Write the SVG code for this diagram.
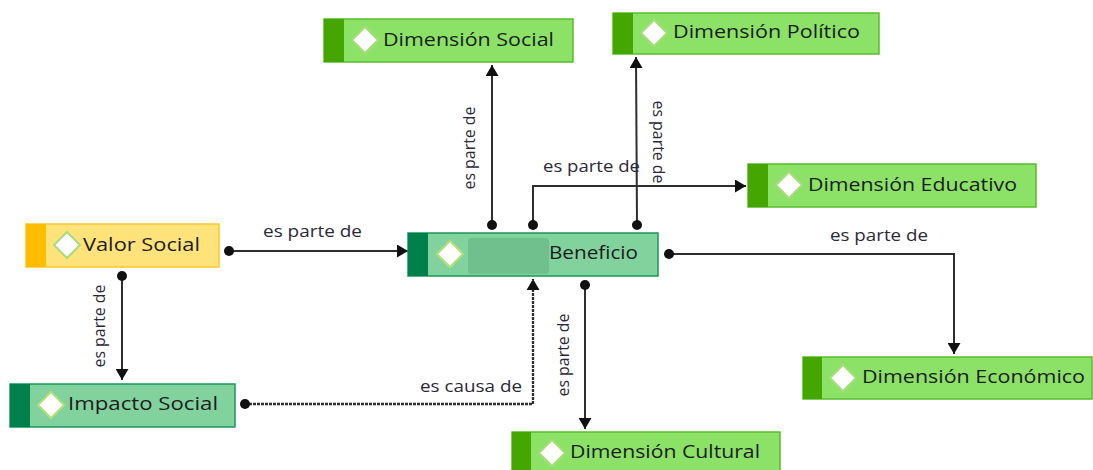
<svg xmlns="http://www.w3.org/2000/svg" width="1093" height="470" viewBox="0 0 1093 470">
<defs>
<style>
.bg{fill:#ffffff}
.g .box{fill:#8be266;stroke:#58bd2c;stroke-width:1.5}
.g .strip{fill:#46a600}
.y .box{fill:#ffe27a;stroke:#ffc72e;stroke-width:1.5}
.y .strip{fill:#ffbd00}
.t .box{fill:#82d29e;stroke:#18985a;stroke-width:1.5}
.t .strip{fill:#00804a}
.dia{fill:#ffffff;stroke:#a8dc7c;stroke-width:2}
.lbl{font-family:"Open Sans","Noto Sans","DejaVu Sans",sans-serif;font-size:18px;fill:#1c1c1c}
.el{font-family:"Open Sans","Noto Sans","DejaVu Sans",sans-serif;font-size:15.5px;fill:#2c2838}
.ln{fill:none;stroke:#2e2e2e;stroke-width:2}
.dash{stroke-dasharray:3 1;stroke-width:2.3}
.redact{fill:#70c08e}
</style>
<marker id="arr" markerUnits="userSpaceOnUse" markerWidth="11" markerHeight="13" viewBox="0 0 11 13" refX="11" refY="6.5" orient="auto">
<path d="M0,0 L11,6.5 L0,13 Z" fill="#111"/>
</marker>
<marker id="dot" markerUnits="userSpaceOnUse" markerWidth="11" markerHeight="11" viewBox="0 0 11 11" refX="5.5" refY="5.5" orient="auto">
<circle cx="5.5" cy="5.5" r="5" fill="#111"/>
</marker>
</defs>
<rect class="bg" x="0" y="0" width="1093" height="470"/>

<g id="connectors">
<path class="ln" d="M229,251 L408,251" marker-start="url(#dot)" marker-end="url(#arr)"/>
<path class="ln" d="M122,276 L122,380" marker-start="url(#dot)" marker-end="url(#arr)"/>
<path class="ln" d="M492,225 L492,65" marker-start="url(#dot)" marker-end="url(#arr)"/>
<path class="ln" d="M637,225 L636,57" marker-start="url(#dot)" marker-end="url(#arr)"/>
<path class="ln" d="M533,225 L533,186 L746,186" marker-start="url(#dot)" marker-end="url(#arr)"/>
<path class="ln" d="M669,254 L954,254 L954,354" marker-start="url(#dot)" marker-end="url(#arr)"/>
<path class="ln" d="M585,285 L585,429" marker-start="url(#dot)" marker-end="url(#arr)"/>
<path class="ln dash" d="M245,404 L533,404 L533,279" marker-start="url(#dot)" marker-end="url(#arr)"/>
<text class="el" x="263" y="237" textLength="99" lengthAdjust="spacingAndGlyphs">es parte de</text>
<text class="el" transform="translate(105,326) rotate(-90)" text-anchor="middle" textLength="83" lengthAdjust="spacingAndGlyphs">es parte de</text>
<text class="el" transform="translate(475,148) rotate(-90)" text-anchor="middle" textLength="83" lengthAdjust="spacingAndGlyphs">es parte de</text>
<text class="el" transform="translate(653,142) rotate(90)" text-anchor="middle" textLength="83" lengthAdjust="spacingAndGlyphs">es parte de</text>
<text class="el" x="543" y="172" textLength="97" lengthAdjust="spacingAndGlyphs">es parte de</text>
<text class="el" x="830" y="241" textLength="98" lengthAdjust="spacingAndGlyphs">es parte de</text>
<text class="el" transform="translate(569,355) rotate(-90)" text-anchor="middle" textLength="83" lengthAdjust="spacingAndGlyphs">es parte de</text>
<text class="el" x="420" y="392" textLength="102" lengthAdjust="spacingAndGlyphs">es causa de</text>
</g>

<g id="dim-social" class="g">
<rect class="box" x="324" y="19" width="249" height="43"/>
<rect class="strip" x="324" y="19" width="20" height="43"/>
<path class="dia" d="M365,27 L378,40 L365,53 L352,40 Z"/>
<text class="lbl" x="383" y="46" textLength="171" lengthAdjust="spacingAndGlyphs">Dimensión Social</text>
</g>

<g id="dim-politico" class="g">
<rect class="box" x="613" y="13" width="266" height="41"/>
<rect class="strip" x="613" y="13" width="20" height="41"/>
<path class="dia" d="M654,20 L667,33 L654,46 L641,33 Z"/>
<text class="lbl" x="673" y="38" textLength="187" lengthAdjust="spacingAndGlyphs">Dimensión Político</text>
</g>

<g id="dim-educativo" class="g">
<rect class="box" x="748" y="164" width="288" height="43"/>
<rect class="strip" x="748" y="164" width="20" height="43"/>
<path class="dia" d="M789,172 L802,185 L789,198 L776,185 Z"/>
<text class="lbl" x="808" y="190.5" textLength="209" lengthAdjust="spacingAndGlyphs">Dimensión Educativo</text>
</g>

<g id="valor-social" class="y">
<rect class="box" x="26" y="224" width="193" height="43"/>
<rect class="strip" x="26" y="224" width="20" height="43"/>
<path class="dia" d="M67,232 L80,245 L67,258 L54,245 Z"/>
<text class="lbl" x="83" y="250.5" textLength="117" lengthAdjust="spacingAndGlyphs">Valor Social</text>
</g>

<g id="beneficio" class="t">
<rect class="box" x="408" y="233" width="250" height="43"/>
<rect class="strip" x="408" y="233" width="20" height="43"/>
<path class="dia" d="M450,241 L463,254 L450,267 L437,254 Z" style="stroke:#b4e07a"/>
<rect class="redact" x="468" y="238" width="81" height="36" rx="3"/>
<text class="lbl" x="549" y="258.5" textLength="89" lengthAdjust="spacingAndGlyphs">Beneficio</text>
</g>

<g id="impacto-social" class="t">
<rect class="box" x="10" y="384" width="225" height="43"/>
<rect class="strip" x="10" y="384" width="20" height="43"/>
<path class="dia" d="M51,392 L64,405 L51,418 L38,405 Z" style="stroke:#b4e07a"/>
<text class="lbl" x="68" y="409.5" textLength="150" lengthAdjust="spacingAndGlyphs">Impacto Social</text>
</g>

<g id="dim-economico" class="g">
<rect class="box" x="803" y="357" width="289" height="42"/>
<rect class="strip" x="803" y="357" width="19" height="42"/>
<path class="dia" d="M843,365 L856,378 L843,391 L830,378 Z"/>
<text class="lbl" x="862" y="383" textLength="223" lengthAdjust="spacingAndGlyphs">Dimensión Económico</text>
</g>

<g id="dim-cultural" class="g">
<rect class="box" x="512" y="432" width="268" height="43"/>
<rect class="strip" x="512" y="432" width="19" height="43"/>
<path class="dia" d="M552,440 L565,453 L552,466 L539,453 Z"/>
<text class="lbl" x="570" y="458" textLength="190" lengthAdjust="spacingAndGlyphs">Dimensión Cultural</text>
</g>
</svg>
